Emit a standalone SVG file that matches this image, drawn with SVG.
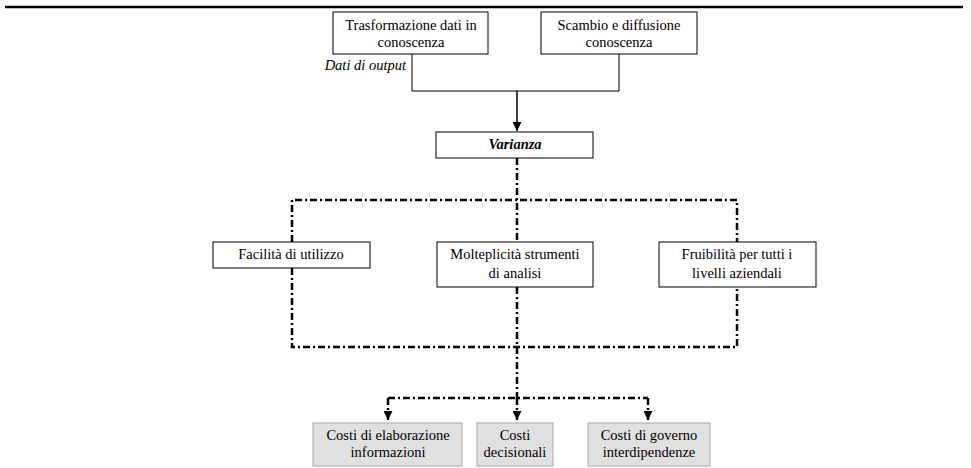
<svg xmlns="http://www.w3.org/2000/svg" width="971" height="468" viewBox="0 0 971 468">
  <style>
    text { font-family: "Liberation Serif", "Times New Roman", serif; font-size: 14.5px; fill: #000; text-anchor: middle; }
    .box { fill: #fff; stroke: #000; stroke-width: 1; }
    .cost { fill: #e0e0e0; stroke: #a8a8a8; stroke-width: 1; }
    .solid { fill: none; stroke: #000; stroke-width: 1; }
    .dashdot { fill: none; stroke: #000; stroke-width: 2.5; stroke-dasharray: 7 3 2 3; }
  </style>
  <defs>
    <marker id="tri" viewBox="0 0 10 10" refX="10" refY="5" markerWidth="9" markerHeight="9" markerUnits="userSpaceOnUse" orient="auto">
      <path d="M0,0 L10,5 L0,10 Z" fill="#000"/>
    </marker>
  </defs>

  <!-- page rule -->
  <line x1="5" y1="7" x2="963" y2="7" stroke="#000" stroke-width="2.5"/>

  <g id="connectors">
    <!-- both upper boxes merge into one arrow -->
    <polyline class="solid" points="412,54 412,91 619,91 619,54"/>
    <line x1="517" y1="91" x2="517" y2="131" stroke="#000" stroke-width="1.5" marker-end="url(#tri)"/>
    <!-- Varianza fans out to the three properties -->
    <line class="dashdot" x1="517" y1="158" x2="517" y2="242"/>
    <polyline class="dashdot" points="292,242 292,200 737,200 737,242"/>
    <!-- properties gather again -->
    <polyline class="dashdot" points="292,268 292,347 737,347 737,287"/>
    <line class="dashdot" x1="517" y1="287" x2="517" y2="398"/>
    <!-- distribution to cost categories -->
    <line class="dashdot" x1="388" y1="398" x2="648" y2="398"/>
    <line class="dashdot" x1="388" y1="398" x2="388" y2="420" marker-end="url(#tri)"/>
    <line class="dashdot" x1="517" y1="398" x2="517" y2="420" marker-end="url(#tri)"/>
    <line class="dashdot" x1="648" y1="398" x2="648" y2="420" marker-end="url(#tri)"/>
  </g>

  <g id="trasformazione">
    <rect class="box" x="333" y="12" width="155" height="42"/>
    <text x="411" y="30">Trasformazione dati in</text>
    <text x="411" y="47">conoscenza</text>
  </g>

  <g id="scambio">
    <rect class="box" x="541" y="12" width="156" height="42"/>
    <text x="619" y="30">Scambio e diffusione</text>
    <text x="619" y="47">conoscenza</text>
  </g>

  <g id="dati-output">
    <text x="406" y="70" style="font-style: italic; text-anchor: end;">Dati di output</text>
  </g>

  <g id="varianza">
    <rect class="box" x="436" y="132" width="157" height="26"/>
    <text x="515" y="149" style="font-style: italic; font-weight: bold;">Varianza</text>
  </g>

  <g id="facilita">
    <rect class="box" x="213" y="242" width="157" height="26"/>
    <text x="291" y="259">Facilità di utilizzo</text>
  </g>

  <g id="molteplicita">
    <rect class="box" x="437" y="242" width="156" height="45"/>
    <text x="515" y="259">Molteplicità strumenti</text>
    <text x="515" y="278">di analisi</text>
  </g>

  <g id="fruibilita">
    <rect class="box" x="659" y="242" width="157" height="45"/>
    <text x="737" y="259">Fruibilità per tutti i</text>
    <text x="737" y="278">livelli aziendali</text>
  </g>

  <g id="costi-elaborazione">
    <rect class="cost" x="313" y="423" width="149" height="43"/>
    <text x="388" y="440">Costi di elaborazione</text>
    <text x="388" y="457">informazioni</text>
  </g>

  <g id="costi-decisionali">
    <rect class="cost" x="477" y="423" width="76" height="43"/>
    <text x="515" y="440">Costi</text>
    <text x="515" y="457">decisionali</text>
  </g>

  <g id="costi-governo">
    <rect class="cost" x="588" y="423" width="122" height="43"/>
    <text x="649" y="440">Costi di governo</text>
    <text x="649" y="457">interdipendenze</text>
  </g>
</svg>
